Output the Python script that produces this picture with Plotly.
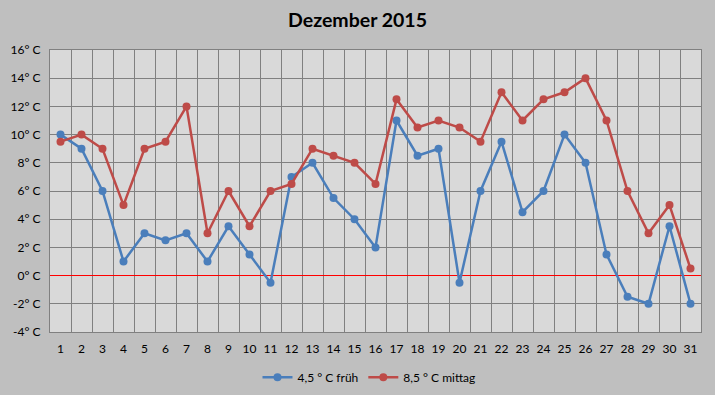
import plotly.graph_objects as go

days = [str(d) for d in range(1, 32)]
frueh = [10, 9, 6, 1, 3, 2.5, 3, 1, 3.5, 1.5, -0.5, 7, 8, 5.5, 4, 2, 11, 8.5, 9, -0.5,
         6, 9.5, 4.5, 6, 10, 8, 1.5, -1.5, -2, 3.5, -2]
mittag = [9.5, 10, 9, 5, 9, 9.5, 12, 3, 6, 3.5, 6, 6.5, 9, 8.5, 8, 6.5, 12.5, 10.5, 11, 10.5,
          9.5, 13, 11, 12.5, 13, 14, 11, 6, 3, 5, 0.5]
y_ticks = [-4, -2, 0, 2, 4, 6, 8, 10, 12, 14, 16]
y_labels = [f"{v}° C" for v in y_ticks]

fig = go.Figure()
fig.add_trace(go.Scatter(x=days, y=frueh, mode="lines+markers", name="4,5 ° C früh",
                         line=dict(color="#4a7ebb", width=2.5), marker=dict(size=8, color="#4a7ebb")))
fig.add_trace(go.Scatter(x=days, y=mittag, mode="lines+markers", name="8,5 ° C mittag",
                         line=dict(color="#be4b48", width=2.5), marker=dict(size=8, color="#be4b48")))

fig.update_layout(
    width=715, height=395,
    margin=dict(l=50, r=14, t=50, b=63, autoexpand=False),
    paper_bgcolor="#bfbfbf", plot_bgcolor="#d9d9d9",
    font=dict(family="Lato, Open Sans, sans-serif", size=12, color="#000000"),
    title=dict(text="<b>Dezember 2015</b>", x=0.5, xanchor="center", y=0.948, yanchor="middle",
               font=dict(size=19.5, color="#000000")),
    showlegend=True,
    legend=dict(orientation="h", x=0.49, xanchor="center", yref="container", y=0.045, yanchor="middle",
                font=dict(size=12), bgcolor="rgba(0,0,0,0)"),
    xaxis=dict(type="category", tickson="boundaries", showgrid=True, gridcolor="#808080", gridwidth=1,
               showline=True, linecolor="#808080", mirror=True, ticks="", ticklen=0,
               range=[-0.5, 30.5], tickangle=0, automargin=False, ticklabelstandoff=6),
    yaxis=dict(range=[-4, 16], tickvals=y_ticks, ticktext=y_labels, showgrid=True,
               gridcolor="#808080", gridwidth=1, showline=True, linecolor="#808080", mirror=True,
               zeroline=True, zerolinecolor="#ff0000", zerolinewidth=1, ticks="",
               ticklabelstandoff=6, automargin=False),
)

fig.write_html("out.html", config={"displayModeBar": False},
               post_script="document.body.style.margin='0';document.body.style.background='#bfbfbf';")
